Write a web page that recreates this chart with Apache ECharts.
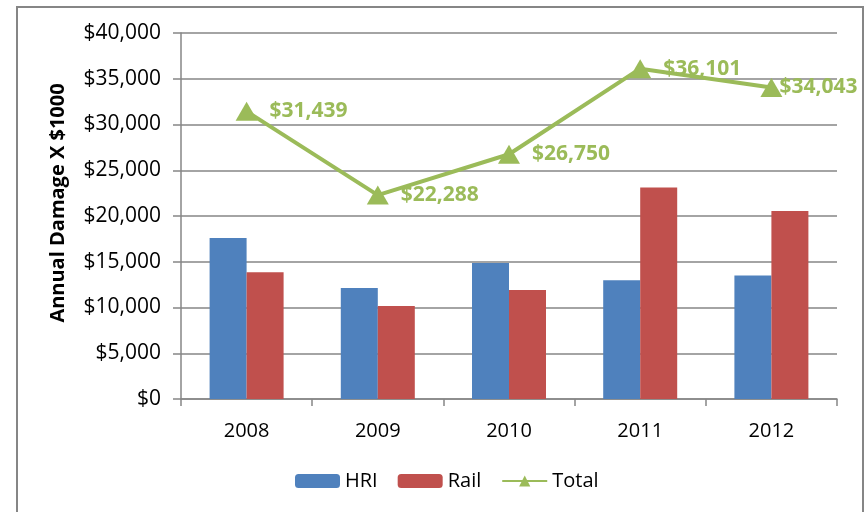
<!DOCTYPE html>
<html>
<head>
<meta charset="utf-8">
<script src="https://cdn.jsdelivr.net/npm/echarts@6/dist/echarts.min.js"></script>
<style>
  html, body { margin: 0; padding: 0; background: #fff; }
  #chart { width: 868px; height: 512px; }
</style>
</head>
<body>
<div id="chart"></div>
<script>
// data
var years = ['2008', '2009', '2010', '2011', '2012'];
var hri = [17590, 12120, 14850, 12990, 13500];
var rail = [13849, 10168, 11900, 23111, 20543];
var total = [31439, 22288, 26750, 36101, 34043];

var FONT = '"Open Sans", "Liberation Sans", sans-serif';

// $12,345 style
function money(v) {
  var s = String(Math.round(v));
  var out = '';
  while (s.length > 3) {
    out = ',' + s.slice(-3) + out;
    s = s.slice(0, -3);
  }
  return '$' + s + out;
}

var chart = echarts.init(document.getElementById('chart'));

var totalData = total.map(function (v, i) {
  // the last label touches its triangle
  if (i === 4) return { value: v, label: { distance: 0, offset: [-3, 0] } };
  return { value: v, label: { distance: 12 } };
});

var option = {
  animation: false,
  backgroundColor: '#fff',
  textStyle: { fontFamily: FONT },
  grid: { left: 181, right: 31, top: 33, bottom: 113 },
  graphic: [
    {
      type: 'rect',
      z: -10,
      shape: { x: 17, y: 7, width: 846, height: 530 },
      style: { fill: 'none', stroke: '#868686', lineWidth: 2 }
    },
    {
      type: 'text',
      x: 58, y: 203,
      rotation: Math.PI / 2,
      style: {
        text: 'Annual Damage X $1000',
        font: 'bold 20px ' + FONT,
        fill: '#000',
        align: 'center',
        verticalAlign: 'middle'
      }
    }
  ],
  legend: {
    left: 290,
    top: 466,
    itemWidth: 45,
    itemHeight: 14,
    itemGap: 20,
    textStyle: { fontSize: 20, color: '#000', fontFamily: FONT },
    data: ['HRI', 'Rail', 'Total']
  },
  xAxis: {
    type: 'category',
    data: years,
    axisLine: { lineStyle: { color: '#868686', width: 1.5 } },
    axisTick: { show: true, length: 7, lineStyle: { color: '#868686', width: 1.5 } },
    axisLabel: { fontSize: 20, color: '#000', margin: 22, fontFamily: FONT }
  },
  yAxis: {
    type: 'value',
    min: 0,
    max: 40000,
    interval: 5000,
    axisLine: { show: true, lineStyle: { color: '#868686', width: 1.5 } },
    axisTick: { show: true, length: 8, lineStyle: { color: '#868686', width: 1.5 } },
    splitLine: { lineStyle: { color: '#868686', width: 1.5 } },
    axisLabel: {
      fontSize: 21, color: '#000', margin: 20, fontFamily: FONT,
      formatter: function (v) { return money(v); }
    }
  },
  series: [
    {
      name: 'HRI',
      type: 'bar',
      data: hri,
      barWidth: 37,
      barGap: '0%',
      itemStyle: { color: '#4F81BD' }
    },
    {
      name: 'Rail',
      type: 'bar',
      data: rail,
      barWidth: 37,
      barGap: '0%',
      itemStyle: { color: '#C0504D' }
    },
    {
      name: 'Total',
      type: 'line',
      data: totalData,
      symbol: 'triangle',
      symbolSize: [22, 19],
      lineStyle: { color: '#9BBB59', width: 4 },
      itemStyle: { color: '#9BBB59' },
      label: {
        show: true,
        position: 'right',
        color: '#9BBB59',
        fontSize: 21,
        fontWeight: 'bold',
        fontFamily: FONT,
        formatter: function (p) { return money(p.value); }
      }
    }
  ]
};

chart.setOption(option);
</script>
</body>
</html>
